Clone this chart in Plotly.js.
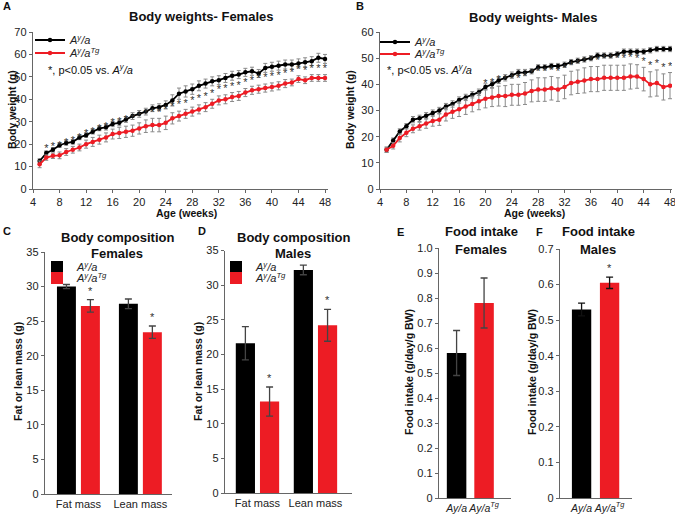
<!DOCTYPE html>
<html><head><meta charset="utf-8">
<script src="https://cdn.plot.ly/plotly-3.0.1.min.js"></script>
<style>html,body{margin:0;padding:0;background:#fff}#chart{width:675px;height:514px}</style>
</head><body><div id="chart"></div>
<script>
// ---------- DATA ----------
const weeks = [5,6,7,8,9,10,11,12,13,14,15,16,17,18,19,20,21,22,23,24,25,26,27,28,29,30,31,32,33,34,35,36,37,38,39,40,41,42,43,44,45,46,47,48];
const femAya = [12.5,16,17.5,19.5,20.5,21,23,24,25.5,27,27.5,29,29.5,31,32.5,33.5,34.5,36,36.5,37.5,39.5,42.5,43.5,44.5,46,47,48,48.5,49.5,50.5,51,52,52.5,51.5,54,54.5,55,55.5,55.5,56,56.5,57,58.5,58];
const femAyaErr = [1,1,1,1,1,1,1,1,1,1,1.2,1.2,1.3,1.3,1.5,1.5,1.5,1.5,1.5,1.8,2.5,2.5,2.5,2.3,2.2,2,2,2,2,2,1.8,1.8,1.8,1.8,2,2,2,2,2,2,2,2,2,2];
const femTg = [11,14,14.8,15,16.5,17.5,18.5,20,21,22,23,24.5,25,25.5,26,27,28,28.5,28.5,29.5,31.5,32.5,33.5,34.5,35.5,36.5,38,39.5,40,41,41.5,43,44,44.5,45,45.5,46,47,47.5,49,48.5,49.5,49.5,49.5];
const femTgErr = [1.5,1.2,1.2,1.5,1.5,1.5,1.5,1.8,2,2,2,2.2,2.5,2.5,2.5,2.5,2.8,3,3,3,2.5,2.2,2,2,2,2,2,2,2,2,2,1.8,1.8,1.8,1.8,1.8,1.8,1.8,1.5,1.5,1.5,1.5,1.5,1.5];
const femSigWeeks = [6,7,8,9,10,11,12,13,14,15,16,17,18,19,20,21,22,23,24,25,26,27,28,29,30,31,32,33,34,35,36,37,38,39,40,41,42,43,44,45,46,47,48];

const maleAya = [15,18.5,22,24,26.5,27,28,29,30,31.5,32.5,34,35,36,37,39,40,41.5,42.5,43.5,44.5,44.5,45,46.5,46.5,47,47,47.5,48.5,49,49.5,50,51,51,51,51.5,52.5,52.5,52.5,52.5,53,53.5,53.5,53.5];
const maleAyaErr = [1,1,1,1,1.2,1.2,1.2,1.2,1.2,1.2,1.2,1.2,1.2,1.2,1.2,1.2,1.2,1.2,1.2,1.2,1.2,1.2,1,1,1,1,1,1,1,1,1,1,1,1,1,1,1,1,1,1,1,1,1,1];
const maleTg = [15,16.5,19.5,21.5,23,24,25,26,26.5,28.5,29.5,30.5,31.5,32.5,33.5,34.5,35,35.5,35.5,36,36,36.5,37.5,38,38,38.5,38,39,40.5,41,41.5,42,42,42.5,42.5,42.5,42.5,43,43,42,40,40.5,39,39.5];
const maleTgErr = [1,1.2,1.5,1.5,1.5,1.5,1.8,2,2.2,2.5,2.5,2.8,3,3,3.2,3.5,3.5,3.8,4,4,4,4.2,4.2,4.5,4.5,4.5,4.5,4.5,4.5,4.5,4.8,4.8,4.8,4.8,4.8,4.8,4.8,4.8,4.5,4.5,4.8,5,5,5];
const maleSigWeeks = [20,21,22,23,24,25,26,27,28,29,30,31,32,33,34,35,36,37,38,39,40,41,42,43,44,45,46,47,48];

const compCats = ["Fat mass","Lean mass"];
const femCompAya = [30,27.5], femCompAyaErr = [0.3,0.7];
const femCompTg = [27.2,23.4], femCompTgErr = [0.9,0.9];
const maleCompAya = [21.6,32.2], maleCompAyaErr = [2.4,0.7];
const maleCompTg = [13.2,24.2], maleCompTgErr = [2.1,2.3];

const intakeCats = ["<i>Ay/a</i>","<i>Ay/a<sup>Tg</sup></i>"];
const femIntake = [0.58,0.78], femIntakeErr = [0.09,0.1];
const maleIntake = [0.53,0.605], maleIntakeErr = [0.018,0.016];
const maleIntakeSig = [false,true];

const fiTicks = [0,0.1,0.2,0.3,0.4,0.5,0.6,0.7,0.8,0.9,1.0];
const fiTickText = ["0","0.1","0.2","0.3","0.4","0.5","0.6","0.7","0.8","0.9","1.0"];

const nameAya = "<i>A<sup>y</sup>/a</i>";
const nameTg = "<i>A<sup>y</sup>/a<sup>Tg</sup></i>";

// ---------- STYLE ----------
const BLACK = "#000000", RED = "#ED1C24", ERRG = "#8a8a8a";
const FONT = "Liberation Sans, Arial, sans-serif";
const sigAt = (w, vals, errs) => w.map(x => { const i = weeks.indexOf(x); return vals[i] + errs[i]; });

function lineTrace(y, err, color, xa, ya, name, lg) {
  return {x: weeks, y: y, type: "scatter", mode: "lines+markers", name: name,
    line: {color: color, width: 1.8}, marker: {color: color, size: 4.5},
    error_y: {type: "data", array: err, color: ERRG, thickness: 1, width: 2},
    xaxis: xa, yaxis: ya, legend: lg, showlegend: true};
}
function starTrace(wk, ys, xa, ya) {
  return {x: wk, y: ys, type: "scatter", mode: "text", text: wk.map(() => "*"),
    textposition: "top center", textfont: {size: 11, color: "#333", family: FONT},
    xaxis: xa, yaxis: ya, showlegend: false, hoverinfo: "skip"};
}
function barTrace(cats, y, err, color, xa, ya, name, lg, offset, width) {
  return {x: cats, y: y, type: "bar", name: name, marker: {color: color, line: {width: 0}},
    error_y: {type: "data", array: err, color: "#444", thickness: 1.3, width: 3.5},
    xaxis: xa, yaxis: ya, legend: lg, showlegend: true, offset: offset, width: width};
}

const traces = [
  lineTrace(femAya, femAyaErr, BLACK, "x", "y", nameAya, "legend"),
  lineTrace(femTg, femTgErr, RED, "x", "y", nameTg, "legend2"),
  starTrace(femSigWeeks, sigAt(femSigWeeks, femTg, femTgErr), "x", "y"),
  lineTrace(maleAya, maleAyaErr, BLACK, "x2", "y2", nameAya, "legend3"),
  lineTrace(maleTg, maleTgErr, RED, "x2", "y2", nameTg, "legend4"),
  starTrace(maleSigWeeks, sigAt(maleSigWeeks, maleTg, maleTgErr), "x2", "y2"),
  barTrace(compCats, femCompAya, femCompAyaErr, BLACK, "x3", "y3", nameAya, "legend5", -0.347, 0.306),
  barTrace(compCats, femCompTg, femCompTgErr, RED, "x3", "y3", nameTg, "legend6", 0.040, 0.306),
  barTrace(compCats, maleCompAya, maleCompAyaErr, BLACK, "x4", "y4", nameAya, "legend7", -0.374, 0.331),
  barTrace(compCats, maleCompTg, maleCompTgErr, RED, "x4", "y4", nameTg, "legend8", 0.043, 0.331),
  {x: intakeCats, y: femIntake, type: "bar", marker: {color: [BLACK, RED]}, width: 0.71,
   error_y: {type: "data", array: femIntakeErr, color: "#444", thickness: 1.3, width: 3.5},
   xaxis: "x5", yaxis: "y5", showlegend: false},
  {x: intakeCats, y: maleIntake, type: "bar", marker: {color: [BLACK, RED]}, width: 0.69,
   error_y: {type: "data", array: maleIntakeErr, color: "#111", thickness: 1.3, width: 3.5},
   xaxis: "x6", yaxis: "y6", showlegend: false}
];

const axBase = {showline: true, linecolor: "#666", linewidth: 1.2, showgrid: false, zeroline: false,
  ticks: "outside", ticklen: 3, tickcolor: "#666", tickfont: {size: 11, color: "#222", family: FONT},
  fixedrange: true, ticklabeloverflow: "allow", tickangle: 0};
const px = v => v / 675, py = v => 1 - v / 514;
const lg = (x, y) => ({x: px(x), y: py(y), xanchor: "left", yanchor: "middle", bgcolor: "rgba(0,0,0,0)",
  borderwidth: 0, font: {size: 11, family: FONT, color: "#222"}, itemwidth: 30});

const layout = {
  width: 675, height: 514, margin: {l: 0, r: 0, t: 0, b: 0},
  paper_bgcolor: "#fff", plot_bgcolor: "rgba(0,0,0,0)",
  font: {family: FONT, color: "#222"}, barmode: "overlay",
  xaxis: Object.assign({}, axBase, {domain: [px(33), px(328)], range: [4, 48.45], tick0: 4, dtick: 4, anchor: "y"}),
  yaxis: Object.assign({}, axBase, {domain: [py(189), py(32)], range: [0, 70], dtick: 10, anchor: "x"}),
  xaxis2: Object.assign({}, axBase, {domain: [px(380), px(672)], range: [4, 48.3], tick0: 4, dtick: 4, anchor: "y2"}),
  yaxis2: Object.assign({}, axBase, {domain: [py(189), py(32)], range: [0, 60], dtick: 10, anchor: "x2"}),
  xaxis3: Object.assign({}, axBase, {domain: [px(45), px(172)], type: "category", range: [-0.54, 1.51], ticks: "", anchor: "y3"}),
  yaxis3: Object.assign({}, axBase, {domain: [py(494), py(252)], range: [0, 35], dtick: 5, anchor: "x3"}),
  xaxis4: Object.assign({}, axBase, {domain: [px(225), px(352)], type: "category", range: [-0.56, 1.63], ticks: "", anchor: "y4"}),
  yaxis4: Object.assign({}, axBase, {domain: [py(493), py(250.5)], range: [0, 35], dtick: 5, anchor: "x4"}),
  xaxis5: Object.assign({}, axBase, {domain: [px(439), px(511)], type: "category", range: [-0.64, 1.98], ticks: "", anchor: "y5",
    tickfont: {size: 10.5, color: "#222", family: FONT}}),
  yaxis5: Object.assign({}, axBase, {domain: [py(498), py(248)], range: [0, 1.0], tickvals: fiTicks, ticktext: fiTickText, anchor: "x5"}),
  xaxis6: Object.assign({}, axBase, {domain: [px(560), px(632)], type: "category", range: [-0.77, 1.80], ticks: "", anchor: "y6",
    tickfont: {size: 10.5, color: "#222", family: FONT}}),
  yaxis6: Object.assign({}, axBase, {domain: [py(498), py(249)], range: [0, 0.7], tickvals: fiTicks.slice(0, 8), ticktext: fiTickText.slice(0, 8), anchor: "x6"}),
  legend: lg(30, 40), legend2: lg(30, 53),
  legend3: lg(375, 42), legend4: lg(375, 54),
  legend5: lg(37, 267), legend6: lg(37, 278),
  legend7: lg(216, 267), legend8: lg(216, 278),
  annotations: []
};

const A = layout.annotations;
function note(x, y, text, opts) {
  A.push(Object.assign({xref: "paper", yref: "paper", x: px(x), y: py(y), text: text, showarrow: false,
    font: {family: FONT, size: 11, color: "#111"}, xanchor: "center", yanchor: "middle"}, opts || {}));
}
// panel letters
[["A", 7, 6], ["B", 360, 6], ["C", 7, 231], ["D", 202, 231], ["E", 400, 232], ["F", 539, 232]].forEach(l =>
  note(l[1], l[2], "<b>" + l[0] + "</b>", {font: {family: FONT, size: 11, color: "#111"}}));
// titles
const tf = {family: FONT, size: 13, color: "#111"};
note(201, 16, "<b>Body weights- Females</b>", {font: tf});
note(533, 18, "<b>Body weights- Males</b>", {font: tf});
note(117, 237, "<b>Body composition</b>", {font: tf});
note(117, 253, "<b>Females</b>", {font: tf});
note(293, 237, "<b>Body composition</b>", {font: tf});
note(293, 253, "<b>Males</b>", {font: tf});
note(481, 232, "<b>Food intake</b>", {font: tf});
note(481, 249, "<b>Females</b>", {font: tf});
note(598, 232, "<b>Food intake</b>", {font: tf});
note(598, 249, "<b>Males</b>", {font: tf});
// axis titles
const af = {family: FONT, size: 10.5, color: "#111"};
note(186, 213, "<b>Age (weeks)</b>", {font: af});
note(534, 213, "<b>Age (weeks)</b>", {font: af});
note(12, 110, "<b>Body weight (g)</b>", {font: af, textangle: -90});
note(350, 110, "<b>Body weight (g)</b>", {font: af, textangle: -90});
note(18, 372, "<b>Fat or lean mass (g)</b>", {font: af, textangle: -90});
note(198, 372, "<b>Fat or lean mass (g)</b>", {font: af, textangle: -90});
note(409, 372, "<b>Food intake (g/day/g BW)</b>", {font: af, textangle: -90});
note(532, 372, "<b>Food intake (g/day/g BW)</b>", {font: af, textangle: -90});
// p-value notes
note(46, 69, "*, p&lt;0.05 vs. " + nameAya, {xanchor: "left", font: {family: FONT, size: 11, color: "#111"}});
note(385, 69, "*, p&lt;0.05 vs. " + nameAya, {xanchor: "left", font: {family: FONT, size: 11, color: "#111"}});
// bar asterisks (above red bars' error bars)
function barStars(xa, ya, cats, vals, errs, sig, shift) {
  cats.forEach((c, i) => { if (sig[i]) A.push({xref: xa, yref: ya, x: c, y: vals[i] + errs[i], text: "*",
    showarrow: false, xshift: shift, yshift: 1, yanchor: "bottom", font: {family: FONT, size: 11, color: "#333"}}); });
}
barStars("x3", "y3", compCats, femCompTg, femCompTgErr, [true, true], 12);
barStars("x4", "y4", compCats, maleCompTg, maleCompTgErr, [true, true], 12.5);
barStars("x6", "y6", intakeCats, maleIntake, maleIntakeErr, maleIntakeSig, 0);

Plotly.newPlot("chart", traces, layout, {staticPlot: true, displayModeBar: false});
</script>
</body></html>
